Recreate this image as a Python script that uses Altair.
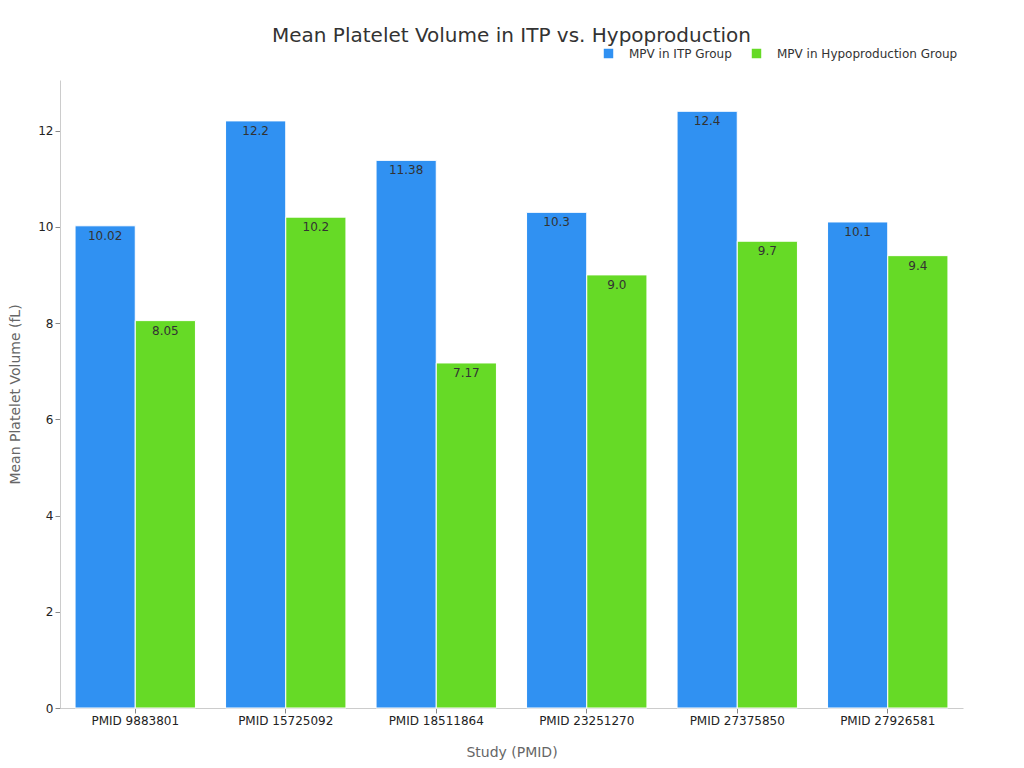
import altair as alt
import pandas as pd

studies = ["PMID 9883801", "PMID 15725092", "PMID 18511864", "PMID 23251270", "PMID 27375850", "PMID 27926581"]
itp = [10.02, 12.2, 11.38, 10.3, 12.4, 10.1]
hypo = [8.05, 10.2, 7.17, 9.0, 9.7, 9.4]
series = ["MPV in ITP Group", "MPV in Hypoproduction Group"]
colors = ["#3091F2", "#66DA26"]

rows = []
for s, a, b in zip(studies, itp, hypo):
    rows.append({"study": s, "group": series[0], "value": a, "label": f"{a}"})
    rows.append({"study": s, "group": series[1], "value": b, "label": f"{b}"})
df = pd.DataFrame(rows)

font = "DejaVu Sans"

base = alt.Chart(df).encode(
    x=alt.X("study:N", sort=studies, title="Study (PMID)",
            scale=alt.Scale(paddingInner=0.2, paddingOuter=0.1),
            axis=alt.Axis(labelAngle=0, labelFontSize=12, labelColor="#222", titleFontSize=14,
                          titleColor="#666", titleFontWeight="normal", titlePadding=19,
                          domainColor="#ccc", tickColor="#888", labelFont=font, titleFont=font)),
    xOffset=alt.XOffset("group:N", sort=series),
    y=alt.Y("value:Q", title="Mean Platelet Volume (fL)",
            scale=alt.Scale(domain=[0, 13.05], nice=False),
            axis=alt.Axis(values=[0, 2, 4, 6, 8, 10, 12], grid=False, labelFontSize=12, labelColor="#222",
                          titleFontSize=14, titleColor="#666", titleFontWeight="normal", titlePadding=15,
                          domainColor="#ccc", tickColor="#888", labelFont=font, titleFont=font)),
)

bars = base.mark_bar(stroke="white", strokeWidth=1).encode(
    color=alt.Color("group:N", sort=series, scale=alt.Scale(domain=series, range=colors),
                    legend=alt.Legend(title=None, orient="none", direction="horizontal",
                                      legendX=542, legendY=-33, symbolType="square", symbolSize=120,
                                      labelFontSize=12, labelColor="#333", labelFont=font, labelLimit=400,
                                      columnPadding=16, labelOffset=14))
)

texts = base.mark_text(baseline="top", dy=5, fontSize=12, color="#333", font=font).encode(
    text="label:N"
)

chart = (bars + texts).properties(
    width=903, height=628,
    title=alt.TitleParams("Mean Platelet Volume in ITP vs. Hypoproduction", fontSize=20,
                          font=font, fontWeight="normal", color="#333", offset=1, anchor="middle"),
    autosize=alt.AutoSizeParams(type="none"),
    padding={"left": 52, "top": 72, "right": 50, "bottom": 60},
).configure_view(stroke=None)

chart.save("out.html", embed_options={"renderer": "svg", "actions": False})
